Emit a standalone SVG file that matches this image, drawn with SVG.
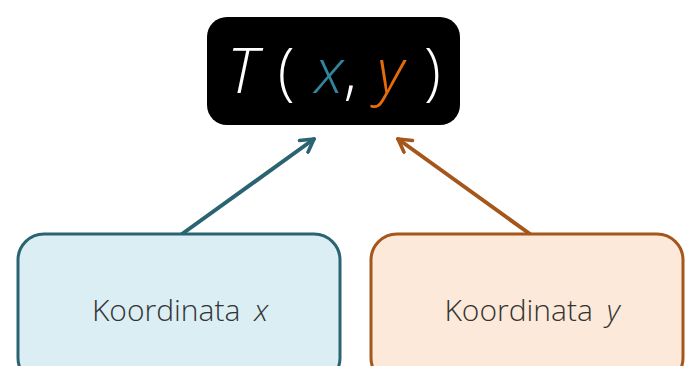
<svg xmlns="http://www.w3.org/2000/svg" width="685" height="366" viewBox="0 0 685 366">
<defs>
<style>
.lbl{font-family:"Open Sans","Noto Sans",sans-serif;font-weight:300;font-size:30px;fill:#333333;word-spacing:6px}
.ttl{font-family:"Open Sans","Noto Sans",sans-serif;font-weight:300;font-size:62px;font-style:italic;word-spacing:4px}
.conn{fill:none;stroke-width:4;stroke-linecap:round}
</style>
<marker id="ah-teal" viewBox="0 0 10 10" refX="8" refY="5" markerWidth="4.5" markerHeight="4.5" orient="auto" markerUnits="strokeWidth">
<path d="M1,1 L8,5 L1,9" fill="none" stroke="#2a6472" stroke-width="2" stroke-linecap="round" stroke-linejoin="round"/>
</marker>
<marker id="ah-brown" viewBox="0 0 10 10" refX="8" refY="5" markerWidth="4.5" markerHeight="4.5" orient="auto" markerUnits="strokeWidth">
<path d="M1,1 L8,5 L1,9" fill="none" stroke="#a4561b" stroke-width="2" stroke-linecap="round" stroke-linejoin="round"/>
</marker>
</defs>
<rect width="685" height="366" fill="#ffffff"/>
<g id="connectors">
<line class="conn" x1="182" y1="234" x2="314" y2="139" stroke="#2a6472" marker-end="url(#ah-teal)"/>
<line class="conn" x1="530" y1="234" x2="398" y2="139" stroke="#a4561b" marker-end="url(#ah-brown)"/>
</g>
<g id="node-title">
<rect x="207" y="17" width="253" height="108" rx="20" fill="#000000"/>
<text class="ttl" x="334" y="93" text-anchor="middle"><tspan fill="#ffffff">T</tspan><tspan fill="#ffffff" font-style="normal"> ( </tspan><tspan fill="#31859c">x</tspan><tspan fill="#ffffff" font-style="normal">, </tspan><tspan fill="#e46c0a">y</tspan><tspan fill="#ffffff" font-style="normal"> )</tspan></text>
</g>
<g id="node-x">
<rect x="18" y="234" width="322" height="150" rx="26" fill="#daeef3" stroke="#2a6472" stroke-width="3"/>
<text class="lbl" x="180" y="321" text-anchor="middle">Koordinata <tspan font-style="italic">x</tspan></text>
</g>
<g id="node-y">
<rect x="371" y="234" width="312" height="150" rx="26" fill="#fde9d9" stroke="#a4561b" stroke-width="3"/>
<text class="lbl" x="532" y="321" text-anchor="middle">Koordinata <tspan font-style="italic">y</tspan></text>
</g>
</svg>
